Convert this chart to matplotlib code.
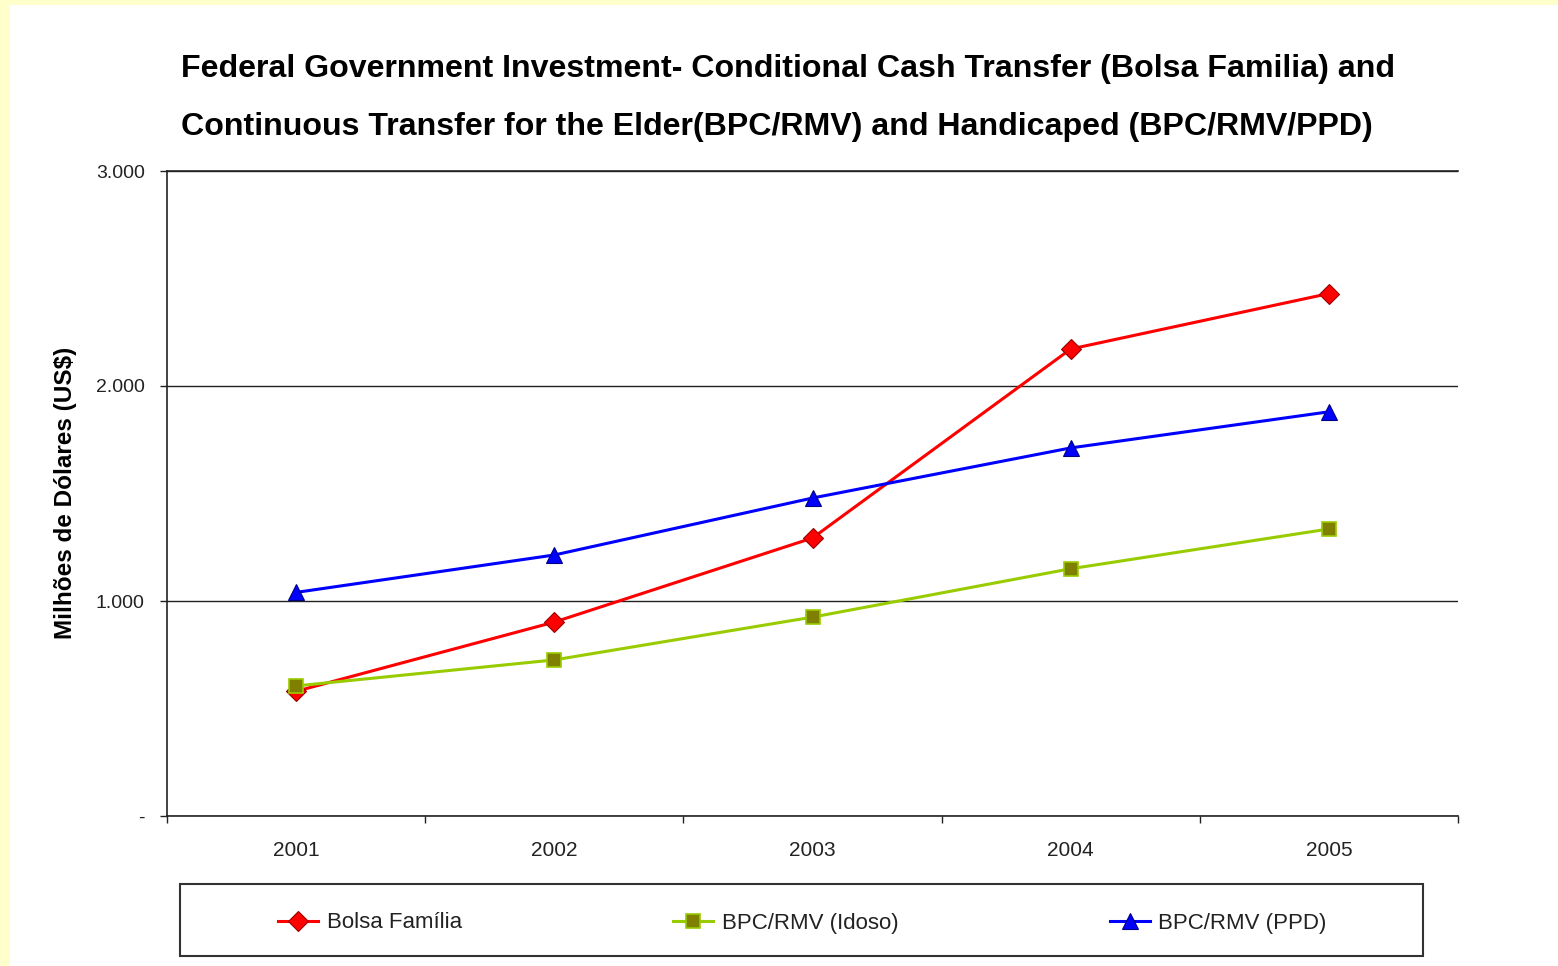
import matplotlib
matplotlib.use("Agg")
import matplotlib.pyplot as plt
from matplotlib.patches import Rectangle

years = ["2001", "2002", "2003", "2004", "2005"]
bolsa_familia = [580, 902, 1293, 2172, 2430]
bpc_idoso = [605, 726, 925, 1150, 1335]
bpc_ppd = [1040, 1214, 1479, 1712, 1880]

y_ticks = [0, 1000, 2000, 3000]
y_tick_labels = ["-", "1.000", "2.000", "3.000"]

title_lines = [
    "Federal Government Investment- Conditional Cash Transfer (Bolsa Familia) and",
    "Continuous Transfer for the Elder(BPC/RMV) and Handicaped (BPC/RMV/PPD)",
]

plt.rcParams['font.family'] = ['Liberation Sans', 'DejaVu Sans']

W, H = 1558, 966
fig = plt.figure(figsize=(W / 100, H / 100), dpi=100, facecolor='#FFFFCC')

# white panel inside the yellow border
fig.patches.append(Rectangle((10 / W, 0), 1 - 10 / W, 1 - 5 / H, transform=fig.transFigure,
                             facecolor='white', edgecolor='none', zorder=-10))

ax = fig.add_axes([167 / W, 1 - 816 / H, (1458 - 167) / W, (816 - 171) / H])
ax.set_facecolor('white')
ax.set_zorder(2)

x = list(range(len(years)))
ax.plot(x, bolsa_familia, color='#FF0000', lw=2.2, marker='D', ms=10,
        mfc='#FF0000', mec='#990000', mew=0.8, label='Bolsa Família', zorder=3)
ax.plot(x, bpc_idoso, color='#99CC00', lw=2.2, marker='s', ms=10.5,
        mfc='#808000', mec='#99CC00', mew=1.2, label='BPC/RMV (Idoso)', zorder=3)
ax.plot(x, bpc_ppd, color='#0000FF', lw=2.2, marker='^', ms=12,
        mfc='#0000FF', mec='#000080', mew=0.8, label='BPC/RMV (PPD)', zorder=3)

ax.set_xlim(-0.5, len(years) - 0.5)
ax.set_ylim(0, 3000)

# category labels centred, tick marks between categories
ax.set_xticks([i - 0.5 for i in range(len(years) + 1)])
ax.set_xticklabels([])
ax.set_xticks(x, minor=True)
ax.set_xticklabels(years, minor=True, fontsize=15, color='#222222')
ax.tick_params(axis='x', which='major', direction='out', length=5, width=1, color='#222222')
ax.tick_params(axis='x', which='minor', length=0, pad=18)

ax.set_yticks(y_ticks)
ax.set_yticklabels(y_tick_labels, fontsize=14, color='#222222')
ax.tick_params(axis='y', direction='out', length=5, width=1, pad=11, color='#222222')

ax.yaxis.grid(True, color='#222222', lw=1)
ax.set_axisbelow(True)
for side in ['left', 'bottom', 'top']:
    ax.spines[side].set_color('#222222')
    ax.spines[side].set_linewidth(1.2)
ax.spines['right'].set_visible(False)

ax.set_ylabel('Milhões de Dólares (US$)', fontsize=17.5, fontweight='bold')
ax.yaxis.set_label_coords(-(167 - 77) / (1458 - 167), (816 - 493) / (816 - 171))

fig.text(181 / W, 1 - 69 / H, title_lines[0], fontsize=23.1, fontweight='bold', va='center', ha='left')
fig.text(181 / W, 1 - 127 / H, title_lines[1], fontsize=23.1, fontweight='bold', va='center', ha='left')

# legend box
fig.patches.append(Rectangle((180 / W, 1 - 956 / H), (1423 - 180) / W, (956 - 884) / H,
                             transform=fig.transFigure, facecolor='white',
                             edgecolor='#333333', lw=1.5, zorder=1))
leg = fig.legend(loc='center', bbox_to_anchor=((180 + 1423) / 2 / W + 0.0005, 1 - 923 / H),
                 ncol=3, frameon=False, fontsize=16, handlelength=1.8,
                 handletextpad=0.4, columnspacing=9.5)
leg.set_zorder(5)
for t in leg.get_texts():
    t.set_color('#222222')

fig.savefig('out.png', dpi=100, facecolor=fig.get_facecolor())
